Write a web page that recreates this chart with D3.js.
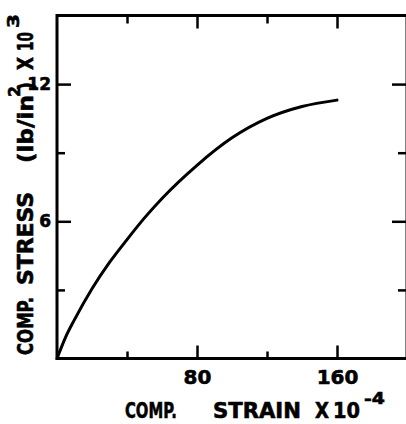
<!DOCTYPE html>
<html>
<head>
<meta charset="utf-8">
<script src="https://cdn.jsdelivr.net/npm/d3@7"></script>
<style>
  body { margin: 0; background: #fff; }
  text { font-family: "DejaVu Sans", sans-serif; font-weight: bold; fill: #000; stroke: #000; stroke-width: 0.6px; }
</style>
</head>
<body>
<div id="chart"></div>
<script>
// DATA
const strain = [0, 5, 10, 20, 30, 40, 50, 60, 80, 100, 120, 140, 160];
const stress = [0, 0.95, 1.7, 3.05, 4.2, 5.2, 6.15, 7.0, 8.45, 9.65, 10.5, 11.02, 11.3];
const xTickLabels = [80, 160];
const xMinorTicks = [40, 120];
const yTickLabels = [6, 12];
const yMinorTicks = [3, 9];

const WIDTH = 406;
const HEIGHT = 424;

const svg = d3
  .select("#chart")
  .append("svg")
  .attr("width", WIDTH)
  .attr("height", HEIGHT);

let x = d3.scaleLinear().domain([0, 200]).range([57, 407]);
let y = d3.scaleLinear().domain([0, 15]).range([358.5, 15.5]);

// FRAME
svg
  .append("rect")
  .attr("x", x(0))
  .attr("y", y(15))
  .attr("width", x(200) - x(0))
  .attr("height", y(0) - y(15))
  .attr("fill", "none")
  .attr("stroke", "#000")
  .attr("stroke-width", 3);

// AXIS
function ticks(axis, transform, size) {
  const g = svg
    .append("g")
    .attr("transform", transform)
    .call(axis)
    .call((g) => g.select(".domain").remove());
  g.selectAll(".tick line").attr("stroke", "#000").attr("stroke-width", 2.5);
  if (!size) g.selectAll(".tick text").remove();
  else g.selectAll(".tick text").attr("font-size", size).attr("font-family", null);
  return g;
}

// left
ticks(d3.axisLeft(y).tickValues(yTickLabels).tickSize(-14).tickPadding(6), `translate(${x(0)},0)`, 17);
ticks(d3.axisLeft(y).tickValues(yMinorTicks).tickSize(-8), `translate(${x(0)},0)`);
// right
ticks(d3.axisRight(y).tickValues(yTickLabels).tickSize(-14), `translate(${x(200) - 1},0)`);
ticks(d3.axisRight(y).tickValues(yMinorTicks).tickSize(-8), `translate(${x(200) - 1},0)`);
// bottom
ticks(d3.axisBottom(x).tickValues(xTickLabels).tickSize(-13).tickPadding(11), `translate(0,${y(0)})`, 20);
ticks(d3.axisBottom(x).tickValues(xMinorTicks).tickSize(-7), `translate(0,${y(0)})`);
// top
ticks(d3.axisTop(x).tickValues(xTickLabels).tickSize(-13), `translate(0,${y(15)})`);
ticks(d3.axisTop(x).tickValues(xMinorTicks).tickSize(-8), `translate(0,${y(15)})`);

// CURVE
const line = d3
  .line()
  .x((d, i) => x(strain[i]))
  .y((d) => y(d))
  .curve(d3.curveMonotoneX);

svg
  .append("path")
  .datum(stress)
  .attr("d", line)
  .attr("fill", "none")
  .attr("stroke", "#000")
  .attr("stroke-width", 3)
  .attr("stroke-linecap", "round");

// LABELS
// squeeze each word to the width it has in the drawing
function piece(str, px, py, len, size, rotate) {
  const t = svg
    .append("text")
    .attr("font-size", size)
    .text(str);
  const w = t.node().getComputedTextLength();
  t.attr(
    "transform",
    `translate(${px},${py})` + (rotate ? " rotate(-90)" : "") + ` scale(${len / w},1)`
  );
}

// x label
piece("COMP.", 125, 418, 52, 21);
piece("STRAIN", 213, 418, 88, 21);
piece("X", 315, 418, 14, 21);
piece("10", 333, 418, 27, 21);
piece("-4", 364, 404, 21, 16);

// y label
piece("COMP.", 33, 355, 58, 21, true);
piece("STRESS", 33, 285, 93, 21, true);
piece("(lb/in", 33, 163, 68, 21, true);
piece("2", 20, 97, 11, 16, true);
piece(")", 33, 90, 8, 21, true);
piece("X", 33, 70, 13, 21, true);
piece("10", 33, 51, 19, 21, true);
piece("3", 19, 28, 14, 16, true);
</script>
</body>
</html>
